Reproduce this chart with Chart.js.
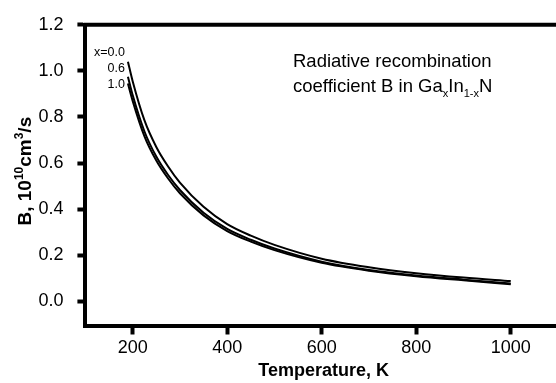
<!DOCTYPE html>
<html>
<head>
<meta charset="utf-8">
<script src="https://cdn.jsdelivr.net/npm/chart.js@4.4.1/dist/chart.umd.min.js"></script>
<style>
  html, body { margin: 0; padding: 0; background: #fff; overflow: hidden; }
  canvas { display: block; }
</style>
</head>
<body>
<canvas id="chart" width="560" height="383"></canvas>
<script>
// temperature (K) and B (10^-10 cm^3/s)
const temps = [190, 200, 225, 250, 275, 300, 350, 400, 450, 500, 600, 700, 800, 900, 1000];
const bX00 = [1.04, 0.955, 0.785, 0.67, 0.585, 0.515, 0.41, 0.335, 0.285, 0.245, 0.185, 0.148, 0.122, 0.103, 0.088];
const bX06 = [0.975, 0.895, 0.737, 0.628, 0.548, 0.483, 0.384, 0.314, 0.267, 0.229, 0.172, 0.136, 0.112, 0.094, 0.077];
const bX10 = [0.945, 0.87, 0.716, 0.611, 0.533, 0.469, 0.373, 0.305, 0.259, 0.222, 0.167, 0.133, 0.109, 0.091, 0.074];
const seriesLabels = ["x=0.0", "0.6", "1.0"];

const xTicks = [200, 400, 600, 800, 1000];
const yTicks = [0.0, 0.2, 0.4, 0.6, 0.8, 1.0, 1.2];

const xTitle = "Temperature, K";
const FONT = "'Liberation Sans', Arial, sans-serif";

const toPoints = (vals) => temps.map((t, i) => ({ x: t, y: vals[i] }));

const lineStyle = {
  borderColor: "#000",
  borderWidth: 2,
  pointRadius: 0,
  cubicInterpolationMode: "monotone",
  fill: false,
};

// draw a run of text pieces, some raised or lowered and smaller
function drawRuns(ctx, runs, x, y, align) {
  let total = 0;
  runs.forEach((r) => {
    ctx.font = r.font;
    total += ctx.measureText(r.text).width;
  });
  let cx = align === "center" ? x - total / 2 : x;
  ctx.textAlign = "left";
  ctx.textBaseline = "alphabetic";
  runs.forEach((r) => {
    ctx.font = r.font;
    ctx.fillText(r.text, cx, y + (r.dy || 0));
    cx += ctx.measureText(r.text).width;
  });
}

const decorations = {
  id: "decorations",
  afterDraw(chart) {
    const { ctx, chartArea: a, scales } = chart;
    ctx.save();
    ctx.fillStyle = "#000";
    ctx.strokeStyle = "#000";

    // top frame line
    ctx.lineWidth = 4;
    ctx.beginPath();
    ctx.moveTo(a.left - 2, a.top);
    ctx.lineTo(a.right, a.top);
    ctx.stroke();

    // y axis title, rotated
    ctx.save();
    ctx.translate(31, (a.top + a.bottom) / 2 - 4);
    ctx.rotate(-Math.PI / 2);
    drawRuns(ctx, [
      { text: "B, 10", font: "bold 19px " + FONT },
      { text: "10", font: "bold 12px " + FONT, dy: -8 },
      { text: "cm", font: "bold 19px " + FONT },
      { text: "3", font: "bold 12px " + FONT, dy: -8 },
      { text: "/s", font: "bold 19px " + FONT },
    ], 0, 0, "center");
    ctx.restore();

    // x axis title
    drawRuns(ctx, [{ text: xTitle, font: "bold 18px " + FONT }],
      (a.left + a.right) / 2 + 2, 376, "center");

    // annotation
    drawRuns(ctx, [{ text: "Radiative recombination", font: "18.5px " + FONT }], 293, 67, "left");
    drawRuns(ctx, [
      { text: "coefficient B in Ga", font: "18.5px " + FONT },
      { text: "x", font: "11px " + FONT, dy: 5 },
      { text: "In", font: "18.5px " + FONT },
      { text: "1-x", font: "11px " + FONT, dy: 5 },
      { text: "N", font: "18.5px " + FONT },
    ], 293, 92, "left");

    // curve labels beside the curve starts
    const sx = scales.x.getPixelForValue(temps[0]) - 3;
    const starts = [bX00[0], bX06[0], bX10[0]];
    const offs = [-3, -2, 7];
    ctx.font = "12.5px " + FONT;
    ctx.textAlign = "right";
    ctx.textBaseline = "middle";
    seriesLabels.forEach((lab, i) => {
      ctx.fillText(lab, sx, scales.y.getPixelForValue(starts[i]) + offs[i] - 6);
    });
    ctx.restore();
  },
};

new Chart(document.getElementById("chart"), {
  type: "line",
  data: {
    datasets: [
      { label: seriesLabels[0], data: toPoints(bX00), ...lineStyle },
      { label: seriesLabels[1], data: toPoints(bX06), ...lineStyle },
      { label: seriesLabels[2], data: toPoints(bX10), ...lineStyle },
    ],
  },
  options: {
    responsive: false,
    animation: false,
    devicePixelRatio: 1,
    layout: { padding: { top: 18.5, right: 2, left: 0, bottom: 0 } },
    plugins: { legend: { display: false }, tooltip: { enabled: false } },
    scales: {
      x: {
        type: "linear",
        min: 100,
        max: 1100,
        afterBuildTicks: (s) => { s.ticks = xTicks.map((v) => ({ value: v })); },
        afterFit: (s) => { s.height = 57.5; },
        border: { display: true, width: 4, color: "#000" },
        grid: { drawOnChartArea: false, drawTicks: true, tickLength: 9, tickWidth: 4, tickColor: "#000" },
        ticks: {
          color: "#000",
          font: { family: FONT, size: 18 },
          padding: 3,
          maxRotation: 0,
          callback: (v) => String(v),
        },
      },
      y: {
        type: "linear",
        min: -0.105,
        max: 1.2,
        afterBuildTicks: (s) => { s.ticks = yTicks.map((v) => ({ value: v })); },
        afterFit: (s) => { s.width = 85.4; },
        border: { display: true, width: 4, color: "#000" },
        grid: { drawOnChartArea: false, drawTicks: true, tickLength: 8, tickWidth: 4, tickColor: "#000" },
        ticks: {
          color: "#000",
          font: { family: FONT, size: 18 },
          padding: 14,
          callback: (v) => Number(v).toFixed(1),
        },
      },
    },
  },
  plugins: [decorations],
});
</script>
</body>
</html>
